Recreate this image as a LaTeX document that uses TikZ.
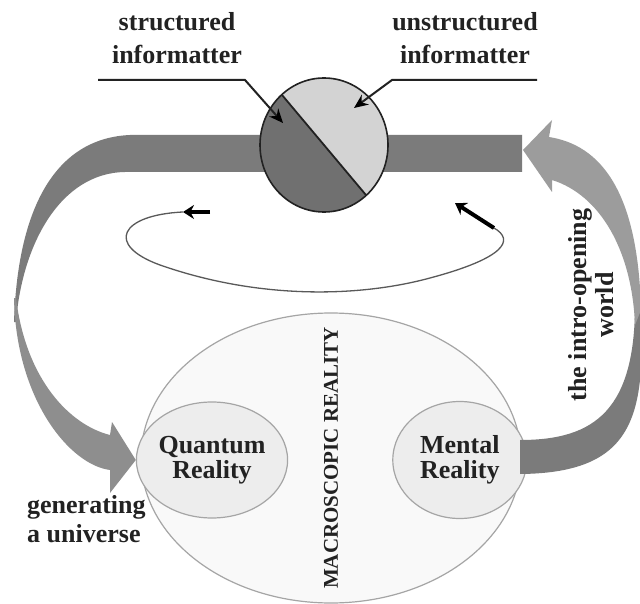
\documentclass[tikz,border=0pt]{standalone}
\usepackage{fontspec}
\setmainfont{Liberation Serif}
\usetikzlibrary{positioning,shapes.geometric,arrows.meta}
\definecolor{band}{HTML}{7B7B7B}
\definecolor{bandlt}{HTML}{8E8E8E}
\definecolor{headlt}{HTML}{9C9C9C}
\definecolor{dkhalf}{HTML}{707070}
\definecolor{lthalf}{HTML}{D3D3D3}
\definecolor{rim}{HTML}{A5A5A5}
\definecolor{ink}{HTML}{222222}

\tikzset{
  lbl/.style={font=\bfseries\fontsize{26}{33}\selectfont, text=ink, align=center, inner sep=0pt},
  realm/.style={ellipse, draw=rim, line width=1.2pt, fill=gray!14, inner sep=0pt,
    font=\bfseries\fontsize{26}{25}\selectfont, text=ink, align=center},
  pointer/.style={draw=ink, line width=2pt, -{Stealth[length=14pt,width=12pt,black]}},
  turn/.style={draw=ink!75, line width=1.3pt},
  turntip/.style={draw=black, line width=4pt, -{Stealth[length=11pt,width=14pt]}},
}

\begin{document}
\begin{tikzpicture}[x=1pt,y=-1pt]
  \useasboundingbox (0,0) rectangle (640,604);
  \fill[white] (0,0) rectangle (640,604);
  \clip (0,0) rectangle (640,604);

  \node[realm, fill=gray!5, minimum width=380pt, minimum height=290pt] (mac) at (331,458) {};
  \node[lbl, font=\bfseries\fontsize{21}{21}\selectfont, rotate=90] (mt) at (mac) {MACROSCOPIC REALITY};
  \node[realm, minimum width=140pt, minimum height=116pt] (qu) at (212,460) {Quantum\\Reality};
  \node[realm, minimum width=134pt, minimum height=117pt, right=104pt of qu] (me) {Mental\\Reality};

  \fill[band] (522,135) -- (130,135) .. controls (60,138) and (18,200) .. (14,322)
    -- (16,322) .. controls (22,245) and (60,173) .. (125,172) -- (522,172) -- cycle;
  \fill[bandlt] (14,298) .. controls (16,400) and (70,465) .. (110,470) -- (110,493)
    -- (qu.west) -- (112,422) -- (110,435) .. controls (70,425) and (26,380) .. (16,298) -- cycle;
  \fill[band] (520,440) .. controls (595,440) and (636,410) .. (635,300)
    -- (641,300) .. controls (645,410) and (640,473) .. (520,474) -- cycle;
  \fill[headlt] (523,150) -- (552,120) -- (549,137) .. controls (600,145) and (638,190) .. (641,310)
    -- (635,325) .. controls (632,250) and (600,195) .. (552,180) -- (552,192) -- cycle;

  \node[ellipse, minimum width=128pt, minimum height=134pt, inner sep=0pt] (inf) at (324,145) {};
  \begin{scope}
    \clip (inf.center) ellipse [x radius=64, y radius=67];
    \fill[dkhalf] (250,70) rectangle (400,220);
    \fill[lthalf] (inf.130) -- (inf.-50) -- (420,215) -- (420,40) -- (250,40) -- cycle;
  \end{scope}
  \draw[ink, line width=1.8pt] (inf.130) -- (inf.-50);
  \draw[ink, line width=1.6pt] (inf.center) ellipse [x radius=64, y radius=67];

  \node[lbl] (st) at (177,38) {structured\\informatter};
  \node[lbl] (un) at (465,38) {unstructured\\informatter};
  \coordinate (sl) at (98,80);
  \coordinate (sk) at (245,80);
  \coordinate (sp) at (283,123);
  \coordinate (ul) at (537,80);
  \coordinate (uk) at (392,80);
  \coordinate (up) at (354,108);
  \draw[pointer] (sl) -- (sk) -- (sp);
  \draw[pointer] (ul) -- (uk) -- (up);

  \coordinate (la) at (183,212);
  \coordinate (lb) at (210,212);
  \coordinate (ra) at (494,228);
  \coordinate (rt) at (455,203);
  \draw[turn] (ra) .. controls (515,240) and (505,258) .. (430,278)
    .. controls (360,297) and (260,300) .. (160,265)
    .. controls (105,245) and (120,215) .. (la);
  \draw[turntip] (lb) -- (la);
  \draw[turntip] (ra) -- (rt);

  \node[lbl, font=\bfseries\fontsize{26}{27}\selectfont, rotate=90] (iw) at (591,305) {the intro-opening\\world};
  \node[lbl, align=left, anchor=west, font=\bfseries\fontsize{26}{29}\selectfont] (gu) at (27,519) {generating\\a universe};
\end{tikzpicture}
\end{document}
